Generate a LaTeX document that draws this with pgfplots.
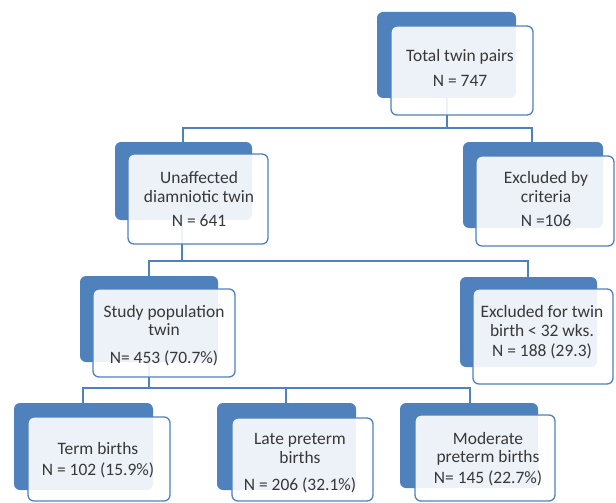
\documentclass[border=0pt]{standalone}
\usepackage{pgfplots}
\pgfplotsset{compat=1.18}
\usepackage{fontspec}
\setmainfont{Carlito}
\definecolor{boxblue}{HTML}{4F81BD}
\definecolor{txt}{HTML}{383838}
\newcommand{\fbx}[8]{%
  \fill[boxblue,rounded corners=6bp] (axis cs:#1,#2) rectangle (axis cs:#3,#4);
  \filldraw[draw=boxblue,fill=white,fill opacity=0.9,line width=1.3bp,rounded corners=6bp] (axis cs:#5,#6) rectangle (axis cs:#7,#8);
}
\newcommand{\tl}[3]{\node[anchor=base,text=txt,inner sep=0pt,font=\fontsize{17.5}{20}\selectfont] at (axis cs:#1,#2) {#3};}
\begin{document}
\begin{tikzpicture}
\begin{axis}[
  width=616bp, height=503bp, scale only axis,
  xmin=0, xmax=616, ymin=0, ymax=503, y dir=reverse,
  axis lines=none, clip=false,
]
\path (axis cs:0,0) rectangle (axis cs:616,503);
% connectors
\addplot[boxblue, line width=1.4bp, forget plot] coordinates {(447,60) (447,128)};
\addplot[boxblue, line width=1.4bp, forget plot] coordinates {(183,142) (183,128) (532,128) (532,142)};
\addplot[boxblue, line width=1.4bp, forget plot] coordinates {(182,200) (182,261)};
\addplot[boxblue, line width=1.4bp, forget plot] coordinates {(149,276) (149,261) (528,261) (528,277)};
\addplot[boxblue, line width=1.4bp, forget plot] coordinates {(149,330) (149,388)};
\addplot[boxblue, line width=1.4bp, forget plot] coordinates {(83,403) (83,388) (470,388) (470,403)};
\addplot[boxblue, line width=1.4bp, forget plot] coordinates {(286,388) (286,403)};
% boxes
\fbx{377}{12}{516}{98}{391}{26}{533}{115}
\fbx{115}{142}{252}{220}{128}{154}{268}{244}
\fbx{463}{142}{603}{228}{476}{156}{614}{246}
\fbx{80}{276}{218}{362}{93}{289}{235}{377}
\fbx{460}{277}{597}{367}{473}{289}{613}{384}
\fbx{14}{403}{153}{490}{28}{417}{170}{501}
\fbx{217}{403}{356}{490}{232}{418}{373}{501}
\fbx{400}{403}{538}{488}{415}{415}{555}{501}
% texts
\tl{460}{62}{Total twin pairs}
\tl{460}{87}{N = 747}
\tl{199}{183}{Unaffected}
\tl{199}{202}{diamniotic twin}
\tl{199}{226}{N = 641}
\tl{546}{183}{Excluded by}
\tl{546}{202}{criteria}
\tl{546}{226}{N =106}
\tl{164}{317}{Study population}
\tl{164}{335}{twin}
\tl{164}{363}{N= 453 (70.7\%)}
\tl{542}{317}{Excluded for twin}
\tl{542}{336}{birth < 32 wks.}
\tl{542}{356}{N = 188 (29.3)}
\tl{98}{454}{Term births}
\tl{98}{475}{N = 102 (15.9\%)}
\tl{300}{444}{Late preterm}
\tl{300}{463}{births}
\tl{300}{490}{N = 206 (32.1\%)}
\tl{488}{444}{Moderate}
\tl{488}{462}{preterm births}
\tl{488}{483}{N= 145 (22.7\%)}
\end{axis}
\end{tikzpicture}
\end{document}
